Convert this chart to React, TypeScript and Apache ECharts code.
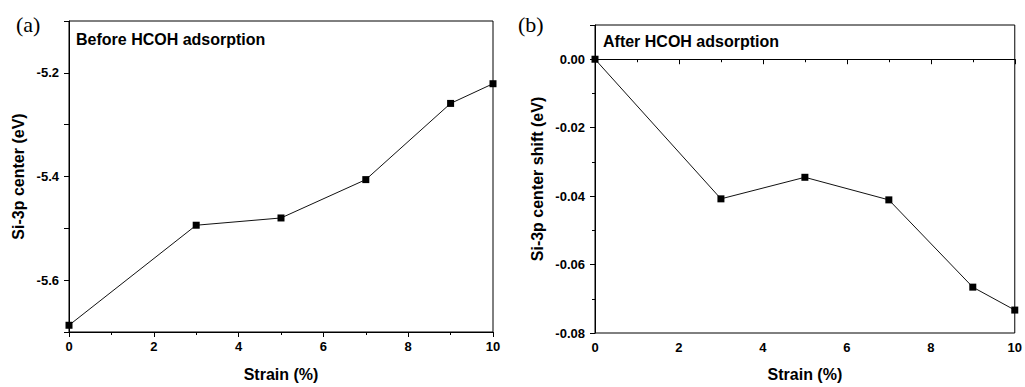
import React, { useEffect, useRef } from "react";
import * as echarts from "echarts";

const strain = [0, 3, 5, 7, 9, 10];
const centerBefore = [-5.687, -5.494, -5.48, -5.406, -5.259, -5.221];
const shiftAfter = [0.0, -0.0408, -0.0345, -0.0411, -0.0666, -0.0733];
const xTicks = [0, 2, 4, 6, 8, 10];
const yTicksA = [-5.6, -5.4, -5.2];
const yTicksB = [-0.08, -0.06, -0.04, -0.02, 0.0];

const FONT = "'Liberation Sans', Arial, sans-serif";
const SERIF = "'Liberation Serif', 'Times New Roman', serif";

export default function App() {
  const ref = useRef<HTMLDivElement>(null);
  useEffect(() => {
    if (!ref.current) return;
    const chart = echarts.init(ref.current, undefined, { renderer: "svg" });
    const axisLine = { show: true, lineStyle: { color: "#000", width: 1 } };
    const labelStyle = { color: "#000", fontFamily: FONT, fontWeight: "bold" as const, fontSize: 13 };
    const nameStyle = { color: "#000", fontFamily: FONT, fontWeight: "bold" as const, fontSize: 16 };
    const xAxisCommon = (gridIndex: number, gap: number) => ({
      type: "value",
      gridIndex,
      min: 0,
      max: 10,
      interval: 2,
      name: "Strain (%)",
      nameLocation: "middle",
      nameGap: gap,
      nameTextStyle: nameStyle,
      axisLine,
      axisTick: { show: true, inside: false, length: 5, lineStyle: { color: "#000" } },
      minorTick: { show: true, splitNumber: 2, length: 3, lineStyle: { color: "#000" } },
      splitLine: { show: false },
      axisLabel: {
        ...labelStyle,
        margin: 8,
        formatter: (v: number) => (xTicks.includes(Math.round(v)) ? String(Math.round(v)) : ""),
      },
    });
    chart.setOption({
      animation: false,
      backgroundColor: "#fff",
      grid: [
        { left: 69, top: 21, width: 424, height: 312, show: true, borderColor: "#000", borderWidth: 1 },
        { left: 595, top: 25, width: 423, height: 313, show: true, borderColor: "#000", borderWidth: 1 },
      ],
      xAxis: [xAxisCommon(0, 34), xAxisCommon(1, 33)],
      yAxis: [
        {
          type: "value",
          gridIndex: 0,
          min: -5.7,
          max: -5.1,
          interval: 0.1,
          name: "Si-3p center (eV)",
          nameLocation: "middle",
          nameGap: 43,
          nameTextStyle: nameStyle,
          axisLine,
          axisTick: { show: true, length: 5, lineStyle: { color: "#000" } },
          splitLine: { show: false },
          axisLabel: {
            ...labelStyle,
            margin: 10,
            formatter: (v: number) => {
              const r = Math.round(v * 10) / 10;
              return yTicksA.some((t) => Math.abs(t - r) < 1e-6) ? r.toFixed(1) : "";
            },
          },
        },
        {
          type: "value",
          gridIndex: 1,
          min: -0.08,
          max: 0.01,
          interval: 0.02,
          name: "Si-3p center shift (eV)",
          nameLocation: "middle",
          nameGap: 50,
          nameTextStyle: nameStyle,
          axisLine,
          axisTick: { show: true, length: 5, lineStyle: { color: "#000" } },
          minorTick: { show: true, splitNumber: 2, length: 3, lineStyle: { color: "#000" } },
          splitLine: { show: false },
          axisLabel: {
            ...labelStyle,
            margin: 10,
            formatter: (v: number) => {
              const r = Math.round(v * 100) / 100;
              return yTicksB.some((t) => Math.abs(t - r) < 1e-6) ? r.toFixed(2) : "";
            },
          },
        },
      ],
      series: [
        {
          type: "line",
          xAxisIndex: 0,
          yAxisIndex: 0,
          data: strain.map((x, i) => [x, centerBefore[i]]),
          symbol: "rect",
          symbolSize: 7,
          itemStyle: { color: "#000" },
          lineStyle: { color: "#111", width: 1 },
          clip: false,
        },
        {
          type: "line",
          xAxisIndex: 1,
          yAxisIndex: 1,
          data: strain.map((x, i) => [x, shiftAfter[i]]),
          symbol: "rect",
          symbolSize: 7,
          itemStyle: { color: "#000" },
          lineStyle: { color: "#111", width: 1 },
          clip: false,
        },
      ],
      graphic: [
        { type: "text", left: 16, top: 13, style: { text: "(a)", font: `22px ${SERIF}`, fill: "#000" } },
        { type: "text", left: 518, top: 13, style: { text: "(b)", font: `22px ${SERIF}`, fill: "#000" } },
        {
          type: "text",
          left: 76,
          top: 31,
          style: { text: "Before HCOH adsorption", font: `bold 16px ${FONT}`, fill: "#000" },
        },
        {
          type: "text",
          left: 603,
          top: 33,
          style: { text: "After HCOH adsorption", font: `bold 16px ${FONT}`, fill: "#000" },
        },
      ],
    });
    return () => chart.dispose();
  }, []);
  return (
    <div
      ref={ref}
      style={{ position: "fixed", left: 0, top: 0, width: 1025, height: 387, background: "#fff" }}
    />
  );
}
